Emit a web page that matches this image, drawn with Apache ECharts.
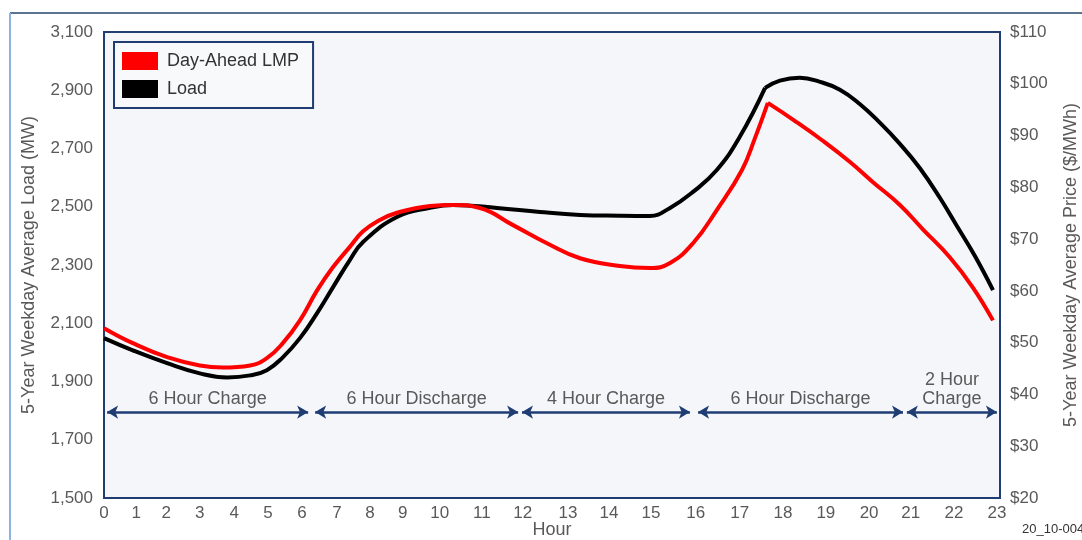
<!DOCTYPE html>
<html>
<head>
<meta charset="utf-8">
<title>Load and Day-Ahead LMP by Hour</title>
<script src="https://cdn.jsdelivr.net/npm/echarts@6.0.0/dist/echarts.min.js"></script>
<style>
  html, body { margin: 0; padding: 0; background: #fff; }
  #chart { width: 1082px; height: 540px; }
</style>
</head>
<body>
<div id="chart"></div>
<script>
// hour labels and where each one sits along the evenly drawn hour axis
var hourLabels = ['0','1','2','3','4','5','6','7','8','9','10','11','12','13','14','15','16','17','18','19','20','21','22','23'];
var hourTickAt = [0, 0.83, 1.60, 2.46, 3.34, 4.21, 5.08, 5.98, 6.83, 7.67, 8.62, 9.70, 10.75, 11.91, 12.96, 14.04, 15.19, 16.32, 17.43, 18.53, 19.64, 20.71, 21.82, 22.92];
var loadTicks = [1500, 1700, 1900, 2100, 2300, 2500, 2700, 2900, 3100];
var priceTicks = [20, 30, 40, 50, 60, 70, 80, 90, 100, 110];

// load curve (MW)
var loadHour = [0.00, 0.74, 1.62, 2.46, 3.16, 3.75, 4.18, 4.59, 5.03, 5.47, 5.88, 6.31, 6.65, 7.52, 8.37, 8.96, 10.09, 11.19, 12.22, 13.24, 14.01, 14.53, 15.12, 15.73, 16.32, 16.97, 17.35, 17.86, 18.38, 18.89, 19.40, 19.92, 20.43, 20.94, 21.46, 21.89, 22.36, 22.82];
var loadMW   = [2049, 2007, 1963, 1928, 1914, 1921, 1939, 1983, 2049, 2135, 2224, 2317, 2379, 2465, 2496, 2506, 2496, 2482, 2472, 2469, 2468, 2496, 2551, 2626, 2740, 2908, 2933, 2943, 2929, 2902, 2853, 2788, 2716, 2633, 2530, 2435, 2330, 2214];

// day-ahead LMP curve ($/MWh)
var lmpHour  = [0.00, 0.74, 1.62, 2.46, 3.05, 3.75, 4.18, 4.59, 5.03, 5.47, 5.88, 6.31, 6.65, 7.08, 7.52, 8.37, 8.96, 9.65, 10.50, 11.37, 12.22, 13.24, 14.01, 14.53, 15.12, 15.73, 16.38, 16.71, 17.04, 17.74, 18.45, 19.15, 19.74, 20.43, 21.02, 21.71, 22.30, 22.82];
var lmpPrice = [52.8, 49.9, 47.2, 45.6, 45.2, 45.6, 47.0, 49.9, 54.3, 60.1, 64.6, 68.5, 71.5, 73.7, 75.1, 76.4, 76.6, 76.0, 72.7, 69.2, 66.3, 64.8, 64.4, 65.4, 69.2, 75.6, 83.4, 89.5, 96.3, 92.8, 89.0, 84.9, 81.0, 76.6, 71.9, 66.5, 60.7, 54.3];

// charge / discharge blocks
var blockFrom = [0.08, 5.42, 10.73, 15.25, 20.61];
var blockTo   = [5.24, 10.63, 15.04, 20.51, 22.92];
var blockText = ['6 Hour Charge', '6 Hour Discharge', '4 Hour Charge', '6 Hour Discharge', '2 Hour\nCharge'];
var blockLevel = 1795;

var navy = '#1f3d73';
var grey = '#595959';
var font = 'Liberation Sans, Arial, sans-serif';

function pairs(xs, ys) {
    return xs.map(function (x, i) { return [x, ys[i]]; });
}
function commas(v) {
    return String(v).replace(/\B(?=(\d{3})+(?!\d))/g, ',');
}
function lineSeries(name, data, yIdx, color) {
    return {
        name: name, type: 'line', yAxisIndex: yIdx, data: data,
        smooth: 0.45, symbol: 'none', showSymbol: false, silent: true,
        lineStyle: { color: color, width: 4 },
        itemStyle: { color: color }
    };
}

var loadPts = pairs(loadHour, loadMW);
var lmpPts = pairs(lmpHour, lmpPrice);
var loadKink = loadHour.indexOf(16.97);                       // corner on the evening ramp
var lmpPeak = lmpPrice.indexOf(Math.max.apply(null, lmpPrice)); // sharp price peak

var option = {
    backgroundColor: '#ffffff',
    animation: false,
    textStyle: { fontFamily: font },
    grid: {
        left: 104, right: 82, top: 32, bottom: 42,
        outerBoundsMode: 'none', containLabel: false,
        show: true, backgroundColor: '#f4f6f9',
        borderColor: navy, borderWidth: 2
    },
    legend: {
        data: [{ name: 'Day-Ahead LMP', icon: 'rect' }, { name: 'Load', icon: 'rect' }],
        orient: 'vertical', left: 114, top: 42,
        itemWidth: 36, itemHeight: 18, itemGap: 10,
        padding: [10, 14, 10, 8],
        borderColor: navy, borderWidth: 2, backgroundColor: '#f8f9fb',
        textStyle: { fontSize: 18, color: '#333', padding: [0, 0, 0, 4], fontFamily: font }
    },
    xAxis: {
        type: 'value', min: 0, max: 23,
        name: 'Hour', nameLocation: 'middle', nameGap: 23, nameMoveOverlap: false,
        nameTextStyle: { fontSize: 18, color: grey, fontFamily: font },
        axisLine: { show: false }, axisTick: { show: false }, splitLine: { show: false },
        axisLabel: {
            customValues: hourTickAt,
            fontSize: 17, color: grey, margin: 7, fontFamily: font,
            formatter: function (v) {
                var i = hourTickAt.findIndex(function (t) { return Math.abs(t - v) < 1e-6; });
                return i < 0 ? '' : hourLabels[i];
            }
        }
    },
    yAxis: [{
        type: 'value', min: loadTicks[0], max: loadTicks[loadTicks.length - 1],
        name: '5-Year Weekday Average Load (MW)', nameLocation: 'middle', nameRotate: 90, nameGap: 66,
        nameTextStyle: { fontSize: 18, color: grey, fontFamily: font },
        axisLine: { show: false }, axisTick: { show: false }, splitLine: { show: false },
        axisLabel: { customValues: loadTicks, formatter: commas, fontSize: 17, color: grey, margin: 11, fontFamily: font }
    }, {
        type: 'value', position: 'right', min: priceTicks[0], max: priceTicks[priceTicks.length - 1],
        name: '5-Year Weekday Average Price ($/MWh)', nameLocation: 'middle', nameRotate: 90, nameGap: 62,
        nameTextStyle: { fontSize: 18, color: grey, fontFamily: font },
        axisLine: { show: false }, axisTick: { show: false }, splitLine: { show: false },
        axisLabel: { customValues: priceTicks, formatter: function (v) { return '$' + v; }, fontSize: 17, color: grey, margin: 10, fontFamily: font }
    }],
    series: [
        lineSeries('Load', loadPts.slice(0, loadKink + 1), 0, '#000000'),
        lineSeries('Load', loadPts.slice(loadKink), 0, '#000000'),
        lineSeries('Day-Ahead LMP', lmpPts.slice(0, lmpPeak + 1), 1, '#ff0000'),
        lineSeries('Day-Ahead LMP', lmpPts.slice(lmpPeak), 1, '#ff0000'),
        {
            name: 'blocks', type: 'line', yAxisIndex: 0, data: [], silent: true,
            markLine: {
                silent: true, animation: false,
                symbol: ['arrow', 'arrow'], symbolSize: [10, 11],
                lineStyle: { color: navy, width: 2.5, type: 'solid' },
                label: {
                    show: true, position: 'insideMiddleTop', formatter: '{b}',
                    fontSize: 18, color: grey, lineHeight: 19, distance: 4, fontFamily: font
                },
                emphasis: { disabled: true },
                data: blockFrom.map(function (f, i) {
                    return [{ coord: [f, blockLevel], name: blockText[i] }, { coord: [blockTo[i], blockLevel] }];
                })
            }
        }
    ],
    graphic: [
        { type: 'line', shape: { x1: 10, y1: 13, x2: 1082, y2: 13 }, style: { stroke: '#5d7392', lineWidth: 2 }, silent: true },
        { type: 'line', shape: { x1: 10, y1: 13, x2: 10, y2: 540 }, style: { stroke: '#8fb2e0', lineWidth: 2 }, silent: true },
        { type: 'text', left: 1022, top: 523, silent: true, style: { text: '20_10-004', fontSize: 13, fill: '#333', fontFamily: font } }
    ]
};

var myChart = echarts.init(document.getElementById('chart'));
myChart.setOption(option);
</script>
</body>
</html>
